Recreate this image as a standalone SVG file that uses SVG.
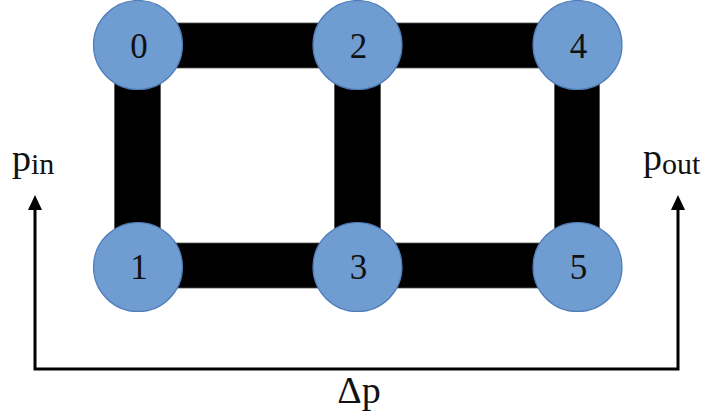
<svg xmlns="http://www.w3.org/2000/svg" width="708" height="419" viewBox="0 0 708 419">
  <style>
    .pipe { fill: #000; stroke: #555; stroke-width: 0.8; }
    .node circle { fill: #6f9cd1; stroke: #4f7db8; stroke-width: 1.2; }
    .node text { font-family: "Liberation Serif", "DejaVu Serif", serif; font-size: 35px; fill: #111; text-anchor: middle; }
    .lbl { font-family: "Liberation Serif", "DejaVu Serif", serif; font-size: 38px; fill: #111; }
    .sub { font-size: 30px; }
    .wire { fill: none; stroke: #000; stroke-width: 3; }
  </style>

  <rect width="708" height="419" fill="#fff"/>

  <!-- pipes between junctions -->
  <g id="connectors">
    <rect class="pipe" x="138" y="23" width="220" height="45"/>
    <rect class="pipe" x="358" y="23" width="220" height="45"/>
    <rect class="pipe" x="138" y="243" width="220" height="45"/>
    <rect class="pipe" x="358" y="243" width="220" height="45"/>
    <rect class="pipe" x="114.5" y="45" width="46" height="222"/>
    <rect class="pipe" x="334.5" y="45" width="46" height="222"/>
    <rect class="pipe" x="554.5" y="45" width="45" height="222"/>
    <!-- pressure drop bracket -->
    <path class="wire" d="M35,210 V369 H678 V210"/>
    <path d="M28,210 L35,195 L42,210 Z" fill="#000"/>
    <path d="M671,210 L678,195 L685,210 Z" fill="#000"/>
  </g>

  <g id="node0" class="node"><circle cx="138" cy="45" r="44.5"/><text x="139" y="58">0</text></g>
  <g id="node2" class="node"><circle cx="357.5" cy="45" r="44.5"/><text x="358.5" y="58">2</text></g>
  <g id="node4" class="node"><circle cx="577.5" cy="45" r="44.5"/><text x="578.5" y="58">4</text></g>
  <g id="node1" class="node"><circle cx="138" cy="267" r="44.5"/><text x="139" y="279">1</text></g>
  <g id="node3" class="node"><circle cx="357.5" cy="267" r="44.5"/><text x="358.5" y="279">3</text></g>
  <g id="node5" class="node"><circle cx="577.5" cy="267" r="44.5"/><text x="578.5" y="279">5</text></g>

  <g id="labels">
    <text class="lbl" x="12" y="171">p<tspan class="sub" dy="3">in</tspan></text>
    <text class="lbl" x="643" y="170">p<tspan class="sub" dy="4">out</tspan></text>
    <text class="lbl" x="359" y="403" text-anchor="middle">Δp</text>
  </g>
</svg>
